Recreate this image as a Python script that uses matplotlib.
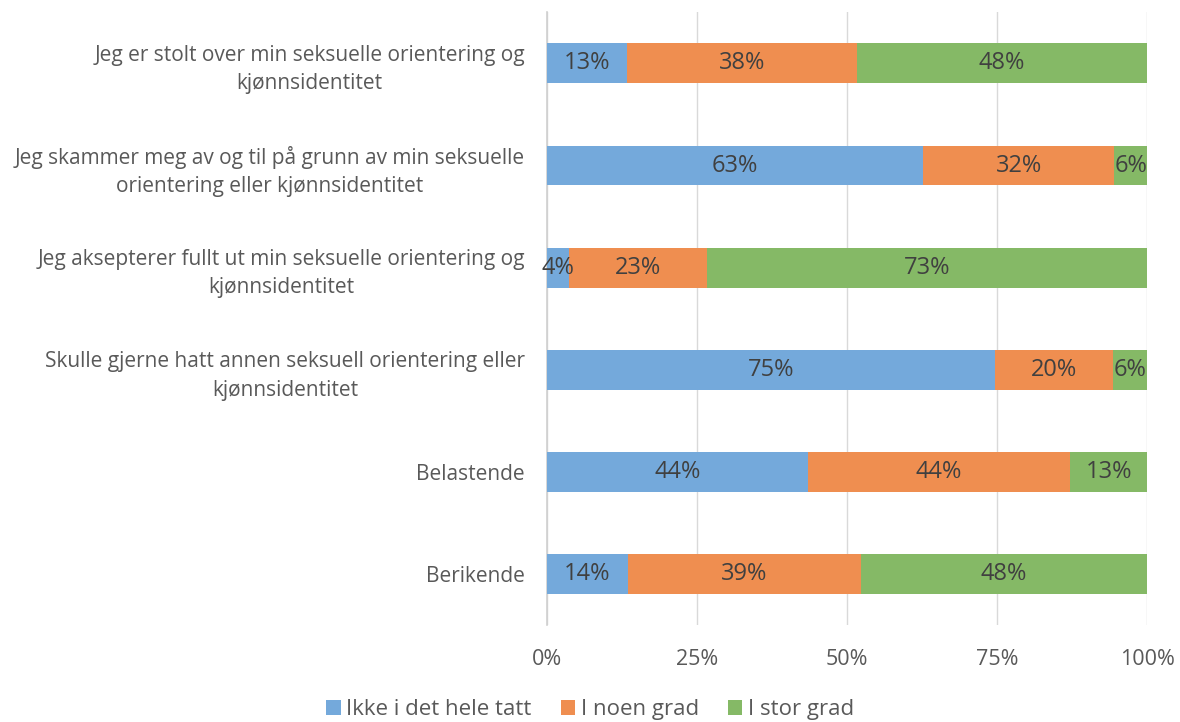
import numpy as np
import matplotlib.pyplot as plt

plt.rcParams['font.family'] = ['Open Sans', 'DejaVu Sans']

categories = [
    "Jeg er stolt over min seksuelle orientering og\nkjønnsidentitet",
    "Jeg skammer meg av og til på grunn av min seksuelle\norientering eller kjønnsidentitet",
    "Jeg aksepterer fullt ut min seksuelle orientering og\nkjønnsidentitet",
    "Skulle gjerne hatt annen seksuell orientering eller\nkjønnsidentitet",
    "Belastende",
    "Berikende",
]
ikke = [13.3, 62.7, 3.7, 74.7, 43.5, 13.5]
noen = [38.4, 31.8, 23.0, 19.7, 43.7, 38.8]
stor = [48.3, 5.5, 73.3, 5.6, 12.8, 47.7]
series_names = ["Ikke i det hele tatt", "I noen grad", "I stor grad"]
colors = ["#74a9db", "#ef8e50", "#85b966"]
xticks = [0, 25, 50, 75, 100]

fig = plt.figure(figsize=(11.8, 7.22), dpi=100)
ax = fig.add_axes([0.4636, 0.134, 0.5085, 0.849])

y = np.arange(len(categories))[::-1]
left = np.zeros(len(categories))
for vals, name, c in zip([ikke, noen, stor], series_names, colors):
    vals = np.array(vals)
    ax.barh(y, vals, left=left, height=0.39, color=c, label=name, zorder=3)
    for yi, l, v in zip(y, left, vals):
        ax.text(l + v / 2, yi, f"{round(v):d}%", ha='center', va='center',
                fontsize=17, color='#404040', zorder=4)
    left += vals

ax.set_xlim(0, 100)
ax.set_ylim(-0.5, 5.5)
ax.set_yticks(y)
ax.set_yticklabels(categories, fontsize=15, color='#595959',
                   multialignment='center', linespacing=1.45)
ax.set_xticks(xticks)
ax.set_xticklabels([f"{t}%" for t in xticks], fontsize=15.5, color='#595959')
ax.tick_params(axis='both', length=0)
ax.tick_params(axis='y', pad=16)
ax.tick_params(axis='x', pad=17)
ax.grid(axis='x', color='#d9d9d9', linewidth=1, zorder=0)
for s in ['top', 'right', 'bottom']:
    ax.spines[s].set_visible(False)
ax.spines['left'].set_color('#d0d0d0')
ax.spines['left'].set_linewidth(1.2)

fig.legend(loc='lower center', bbox_to_anchor=(0.5, -0.025), ncol=3, frameon=False,
           fontsize=16, handlelength=0.65, handleheight=0.65, handletextpad=0.25,
           columnspacing=1.3, labelcolor='#595959')

fig.savefig('out.png', dpi=100)
